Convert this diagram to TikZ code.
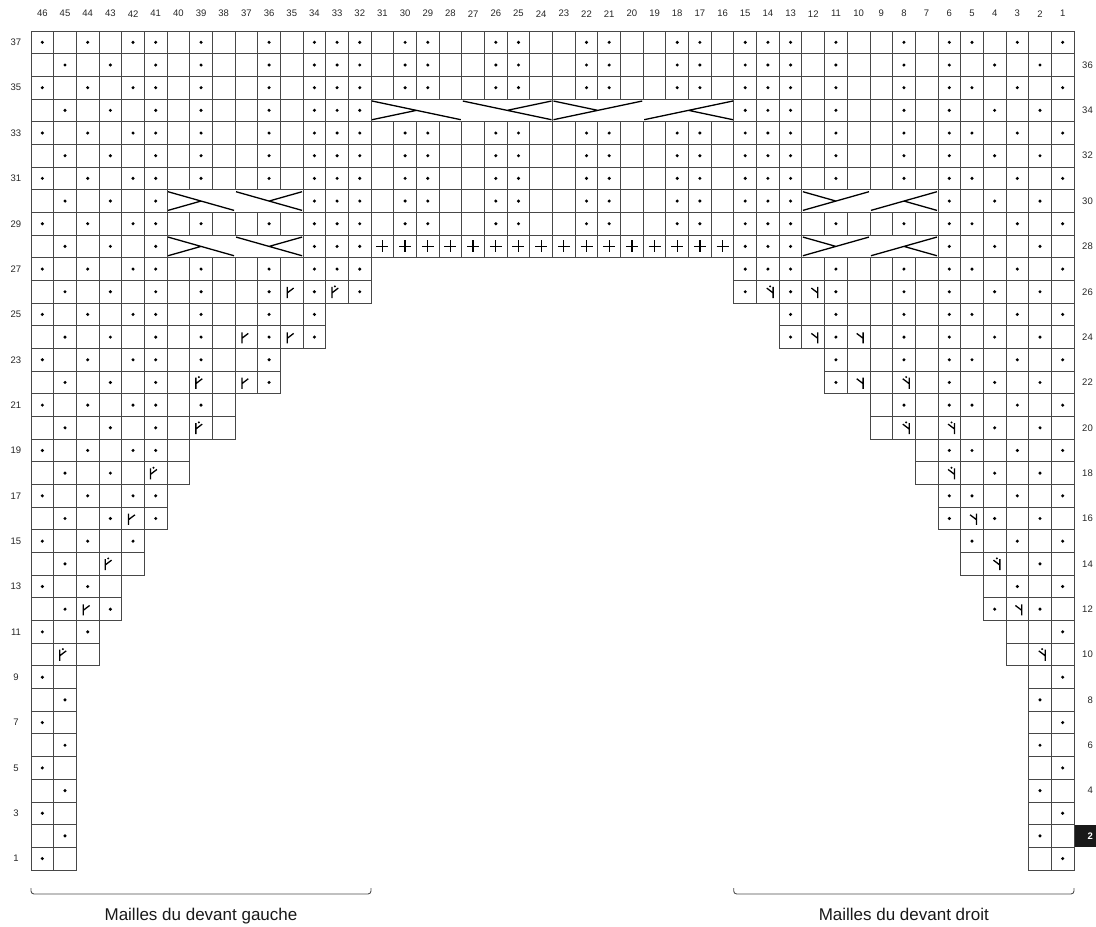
\documentclass[tikz,border=0pt]{standalone}
\usepackage{fontspec}
\setmainfont{Liberation Sans}
\newcount\cc
\def\cs{22.674}
\def\AL{popoppopoopoppp}
\def\BL{opopopopoopoppp}
\def\MID{oppooppooppooppo}
\def\AR{pppopoopoppopop}
\def\BR{pppopoopopopopo}
\tikzset{
  gridline/.style={draw=black!72, line width=0.85pt},
  symline/.style={draw=black, line width=1.3pt},
  cableline/.style={draw=black, line width=1.3pt},
  numlabel/.style={font=\fontsize{9.5}{11}\selectfont, text=black!85, inner sep=0pt},
  caption/.style={font=\fontsize{17}{20}\selectfont, text=black!90, inner sep=0pt, anchor=base},
  bracket/.style={draw=black!70, line width=0.9pt, rounded corners=3pt},
}
\def\drawcell#1{%
  \pgfmathsetmacro\xx{31+\the\cc*\cs}%
  \pgfmathsetmacro\yy{31+(37-\currow)*\cs}%
  \pgfmathsetmacro\mx{\xx+\cs/2}%
  \pgfmathsetmacro\my{\yy+\cs/2}%
  \if#1-\else\if#1C\else\path[gridline] (\xx,\yy) rectangle ++(\cs,\cs);\fi\fi
  \if#1p\fill (\mx,\my) circle[radius=1.7pt];\fi
  \if#1L\path[symline] (\mx-4.5,\my-4.8) -- (\mx-4.5,\my+6.3) (\mx-4.5,\my+1.2) -- (\mx+1.9,\my-3.7);\fi
  \if#1M\path[symline] (\mx-5.2,\my-4.8) -- (\mx-5.2,\my+6.3) (\mx-5.2,\my+1.2) -- (\mx+1.2,\my-3.7);\fill (\mx-2.2,\my-5.4) circle[radius=1.1pt];\fi
  \if#1R\path[symline] (\mx+4.5,\my-4.8) -- (\mx+4.5,\my+6.3) (\mx+4.5,\my+1.2) -- (\mx-1.9,\my-3.7);\fi
  \if#1S\path[symline] (\mx+5.2,\my-4.8) -- (\mx+5.2,\my+6.3) (\mx+5.2,\my+1.2) -- (\mx-1.2,\my-3.7);\fill (\mx+2.2,\my-5.4) circle[radius=1.1pt];\fi
  \if#1+\path[symline] (\mx-6,\my) -- (\mx+6,\my) (\mx,\my-6) -- (\mx,\my+6);\fi
}
\def\rowloop#1{\ifx#1\relax\else\drawcell{#1}\advance\cc by 1\relax\expandafter\rowloop\fi}
\def\rowat#1#2#3{\edef\currow{#1}\cc=\numexpr46-#2\relax\rowloop#3\relax}
\def\rowatx#1#2#3{\edef\currow{#1}\cc=\numexpr46-#2\relax\expandafter\rowloop#3\relax}
\def\cable#1#2#3#4{%
  \pgfmathsetmacro\xa{31+(46-#2)*\cs+1}%
  \pgfmathsetmacro\xb{31+(46-#2+#3)*\cs-1}%
  \pgfmathsetmacro\ya{31+(37-#1)*\cs+2}%
  \pgfmathsetmacro\yb{31+(38-#1)*\cs-2}%
  \pgfmathsetmacro\xm{(\xa+\xb)/2}%
  \pgfmathsetmacro\ym{(\ya+\yb)/2}%
  \if#4a\path[cableline] (\xa,\ya) -- (\xb,\yb) (\xa,\yb) -- (\xm,\ym);\fi
  \if#4b\path[cableline] (\xa,\ya) -- (\xb,\yb) (\xm,\ym) -- (\xb,\ya);\fi
  \if#4c\path[cableline] (\xa,\ya) -- (\xm,\ym) (\xa,\yb) -- (\xb,\ya);\fi
  \if#4d\path[cableline] (\xa,\yb) -- (\xb,\ya) (\xm,\ym) -- (\xb,\yb);\fi
}
\def\cablebox#1#2#3{%
  \pgfmathsetmacro\xa{31+(46-#2)*\cs}%
  \pgfmathsetmacro\ya{31+(37-#1)*\cs}%
  \path[gridline] (\xa,\ya) rectangle ++({#3*\cs},\cs);
}
\begin{document}
\begin{tikzpicture}[x=1pt,y=-1pt]
\useasboundingbox (0,0) rectangle (1096,927);
% standard rows
\foreach \r in {37,35,33,31,29}{\rowatx{\r}{46}{\AL}\rowatx{\r}{31}{\MID}\rowatx{\r}{15}{\AR}}
\foreach \r in {36,32}{\rowatx{\r}{46}{\BL}\rowatx{\r}{31}{\MID}\rowatx{\r}{15}{\BR}}
\rowatx{34}{46}{\BL}\rowatx{34}{15}{\BR}
\cablebox{34}{31}{8}\cablebox{34}{23}{8}
\cable{34}{31}{4}{a}\cable{34}{27}{4}{b}\cable{34}{23}{4}{c}\cable{34}{19}{4}{d}
\foreach \r in {30,28}{%
  \rowat{\r}{46}{opopopCCCCCCppp}\rowat{\r}{15}{pppCCCCCCpopopo}
  \cablebox{\r}{40}{6}\cablebox{\r}{12}{6}
  \cable{\r}{40}{3}{a}\cable{\r}{37}{3}{b}\cable{\r}{12}{3}{c}\cable{\r}{9}{3}{d}}
\rowatx{30}{31}{\MID}
\rowat{28}{31}{++++++++++++++++}
\rowatx{27}{46}{\AL}\rowatx{27}{15}{\AR}
\rowat{26}{46}{opopopopoopLpMp}\rowat{26}{15}{pSpRpoopopopopo}
\rowat{25}{46}{popoppopoopop}\rowat{25}{13}{popoopoppopop}
\rowat{24}{46}{opopopopoLpLp}\rowat{24}{13}{pRpRopopopopo}
\rowat{23}{46}{popoppopoop}\rowat{23}{11}{poopoppopop}
\rowat{22}{46}{opopopoMoLp}\rowat{22}{11}{pRoSopopopo}
\rowat{21}{46}{popoppopo}\rowat{21}{9}{opoppopop}
\rowat{20}{46}{opopopoMo}\rowat{20}{9}{oSoSopopo}
\rowat{19}{46}{popoppo}\rowat{19}{7}{oppopop}
\rowat{18}{46}{opopoMo}\rowat{18}{7}{oSopopo}
\rowat{17}{46}{popopp}\rowat{17}{6}{ppopop}
\rowat{16}{46}{opopLp}\rowat{16}{6}{pRpopo}
\rowat{15}{46}{popop}\rowat{15}{5}{popop}
\rowat{14}{46}{opoMo}\rowat{14}{5}{oSopo}
\rowat{13}{46}{popo}\rowat{13}{4}{opop}
\rowat{12}{46}{opLp}\rowat{12}{4}{pRpo}
\rowat{11}{46}{pop}\rowat{11}{3}{oop}
\rowat{10}{46}{oMo}\rowat{10}{3}{oSo}
\foreach \r in {9,7,5,3,1}{\rowat{\r}{46}{po}\rowat{\r}{2}{op}}
\foreach \r in {8,6,4,2}{\rowat{\r}{46}{op}\rowat{\r}{2}{po}}
% column numbers
\foreach \c in {1,...,46}{%
  \pgfmathsetmacro\lx{31+(46.5-\c)*\cs}%
  \node[numlabel] (col\c) at (\lx,13.7) {\c};}
% row numbers
\foreach \r in {1,3,...,37}{%
  \pgfmathsetmacro\ly{31+(37.5-\r)*\cs}%
  \node[numlabel] (rowl\r) at (16,\ly) {\r};}
\foreach \r in {4,6,...,36}{%
  \pgfmathsetmacro\ly{31+(37.5-\r)*\cs}%
  \node[numlabel,anchor=east] (rowr\r) at (1093,\ly) {\r};}
\pgfmathsetmacro\ya{31+35*\cs}
\fill[black!90] (1075,\ya) rectangle ++(30,\cs);
\node[numlabel,anchor=east,text=white,font=\fontsize{9.5}{11}\selectfont\bfseries] (rowr2) at (1093,{\ya+\cs/2}) {2};
% brackets
\draw[bracket] (31,888) -- (31,894) -- (371,894) -- (371,888);
\draw[bracket] (733.7,888) -- (733.7,894) -- (1074,894) -- (1074,888);
\node[caption] (capl) at (201,920.7) {Mailles du devant gauche};
\node[caption] (capr) at (903.8,920.7) {Mailles du devant droit};
\end{tikzpicture}
\end{document}
